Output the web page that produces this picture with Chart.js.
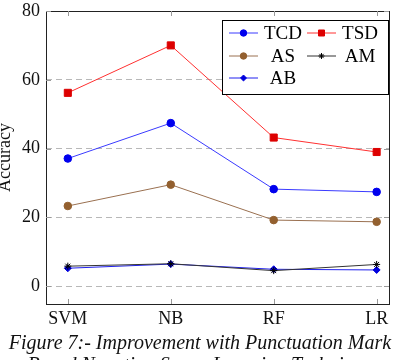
<!DOCTYPE html>
<html>
<head>
<meta charset="utf-8">
<script src="https://cdn.jsdelivr.net/npm/chart.js@4.4.1/dist/chart.umd.min.js"></script>
<style>
  body { margin: 0; background: #fff; }
  #wrap { position: relative; width: 400px; height: 360px; overflow: hidden; }
  #caption {
    position: absolute; left: -20px; top: 331px; width: 440px; text-align: center;
    font-family: "Liberation Serif", "DejaVu Serif", serif; font-style: italic;
    font-size: 20px; line-height: 22px; color: #111; white-space: nowrap;
  }
</style>
</head>
<body>
<div id="wrap">
  <canvas id="Chart" width="400" height="360"></canvas>
  <div id="caption">Figure 7:- Improvement with Punctuation Mark<br>Based Negation Scope Learning Technique</div>
</div>
<script>
// categories and series
const methods = ['SVM', 'NB', 'RF', 'LR'];
const tcd = [37.1, 47.4, 28.2, 27.4];
const tsd = [56.2, 70.0, 43.2, 39.0];
const as_ = [23.3, 29.5, 19.2, 18.7];
const am = [5.8, 6.5, 4.5, 6.3];
const ab = [5.2, 6.4, 4.9, 4.7];
const yTicks = [0, 20, 40, 60, 80];

const serif = '"Liberation Serif", "DejaVu Serif", serif';
const pts = arr => arr.map((v, i) => ({ x: i, y: v }));

function ds(label, arr, color, lineColor, style, r) {
	return {
		label: label,
		data: pts(arr),
		borderColor: lineColor,
		backgroundColor: color,
		pointBackgroundColor: color,
		pointBorderColor: color,
		pointStyle: style,
		pointRadius: r,
		pointBorderWidth: 1,
		borderWidth: 1,
		tension: 0,
	};
}

// legend drawn inside the plot like pgfplots
const legendPlugin = {
	id: 'boxLegend',
	afterDraw(chart) {
		const ctx = chart.ctx;
		const sets = chart.data.datasets;
		const bx = 222, by = 20, bw = 166, bh = 74;
		ctx.save();
		ctx.fillStyle = '#fff';
		ctx.fillRect(bx, by, bw, bh);
		ctx.strokeStyle = '#000';
		ctx.lineWidth = 1;
		ctx.strokeRect(bx + 0.5, by + 0.5, bw, bh);
		const cols = [{ l: 229, c: 283 }, { l: 307, c: 360 }];
		const rows = [33, 56, 78];
		ctx.font = '19px ' + serif;
		ctx.textAlign = 'center';
		ctx.textBaseline = 'middle';
		sets.forEach((d, i) => {
			const col = cols[i % 2], y = rows[Math.floor(i / 2)];
			ctx.strokeStyle = d.borderColor;
			ctx.lineWidth = 1;
			ctx.beginPath();
			ctx.moveTo(col.l, y);
			ctx.lineTo(col.l + 29, y);
			ctx.stroke();
			ctx.fillStyle = d.pointBackgroundColor;
			ctx.strokeStyle = d.pointBorderColor;
			Chart.helpers.drawPoint(ctx, { pointStyle: d.pointStyle, radius: d.pointRadius * 0.85, borderWidth: 1, rotation: 0 }, col.l + 14.5, y);
			ctx.fillStyle = '#000';
			ctx.fillText(d.label, col.c, y + 1);
		});
		ctx.restore();
	}
};

// full frame with inward ticks
const framePlugin = {
	id: 'frame',
	beforeDatasetsDraw(chart) {
		const { ctx, chartArea: a, scales } = chart;
		ctx.save();
		ctx.strokeStyle = '#222';
		ctx.lineWidth = 1;
		ctx.strokeRect(a.left + 0.5, a.top + 0.5, a.right - a.left, a.bottom - a.top);
		ctx.strokeStyle = '#999';
		ctx.beginPath();
		methods.forEach((m, i) => {
			const x = Math.round(scales.x.getPixelForValue(i)) + 0.5;
			ctx.moveTo(x, a.bottom); ctx.lineTo(x, a.bottom - 5);
			ctx.moveTo(x, a.top); ctx.lineTo(x, a.top + 5);
		});
		yTicks.forEach(v => {
			const y = Math.round(scales.y.getPixelForValue(v)) + 0.5;
			ctx.moveTo(a.left, y); ctx.lineTo(a.left + 5, y);
			ctx.moveTo(a.right, y); ctx.lineTo(a.right - 5, y);
		});
		ctx.stroke();
		ctx.restore();
	}
};

let lineCtx = document.getElementById('Chart');
let lineConfig = {
	type: 'line',
	data: {
		datasets: [
			ds('TCD', tcd, '#0000ee', '#3a3aff', 'circle', 3.8),
			ds('TSD', tsd, '#dd0000', '#ff3030', 'rect', 5),
			ds('AS', as_, '#93602f', '#9a7050', 'circle', 3.8),
			ds('AM', am, '#000000', '#333333', 'star', 3.5),
			ds('AB', ab, '#0000dd', '#2020ee', 'rectRot', 3.5),
		],
	},
	options: {
		responsive: false,
		animation: false,
		layout: { padding: { top: 11, right: 11, left: 0, bottom: 0 } },
		plugins: { legend: { display: false }, tooltip: { enabled: false } },
		scales: {
			x: {
				type: 'linear',
				min: -0.212,
				max: 3.12,
				afterBuildTicks: s => { s.ticks = methods.map((m, i) => ({ value: i })); },
				afterFit: s => { s.height = 56; s.paddingLeft = 0; s.paddingRight = 0; },
				ticks: {
					callback: v => methods[v],
					color: '#111',
					font: { family: serif, size: 18 },
					padding: -4,
				},
				grid: { display: false },
				border: { display: false },
			},
			y: {
				min: -5.2,
				max: 80,
				afterBuildTicks: s => { s.ticks = yTicks.map(v => ({ value: v })); },
				afterFit: s => { s.width = 46; s.paddingTop = 0; s.paddingBottom = 0; },
				ticks: {
					color: '#111',
					font: { family: serif, size: 18 },
					padding: 6,
				},
				title: {
					display: true,
					text: 'Accuracy',
					color: '#111',
					font: { family: serif, size: 18 },
					padding: { top: -6, bottom: 0 },
				},
				grid: { color: '#b8b8b8', lineWidth: 1, drawTicks: false },
				border: { display: false, dash: [6, 4] },
			},
		},
	},
	plugins: [framePlugin, legendPlugin],
};
let lineChart = new Chart(lineCtx, lineConfig);
</script>
</body>
</html>
